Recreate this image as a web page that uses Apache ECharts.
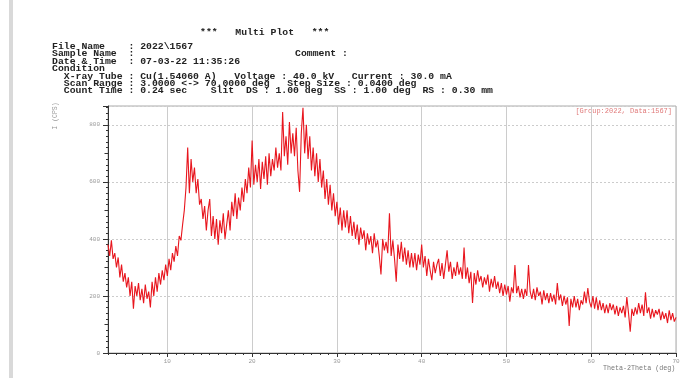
<!DOCTYPE html>
<html>
<head>
<meta charset="utf-8">
<script src="https://cdn.jsdelivr.net/npm/echarts@6/dist/echarts.min.js"></script>
<style>
  html, body { margin: 0; padding: 0; background: #fff; }
  #xrd { width: 700px; height: 378px; }
</style>
</head>
<body>
<div id="xrd"></div>
<script>
var scanStart = 3;
var scanStep = 0.2;
var yTicks = [0, 200, 400, 600, 800];
var xTicks = [10, 20, 30, 40, 50, 60, 70];

var counts = [
  380, 340, 395, 330, 350,   300, 335, 265, 310, 250,   280, 230, 265, 200, 250,   // 3-5
  155, 235, 200, 245, 185,   225, 175, 240, 190, 215,   160, 250, 200, 265, 215,   // 6-8
  280, 240, 290, 255, 310,   270, 330, 290, 350, 320,   375, 340, 410, 395, 450,   // 9-11
  500, 580, 720, 560, 680,   600, 650, 560, 610, 520,   540, 470, 515, 430, 500,   // 12-14
  540, 410, 480, 400, 470,   380, 465, 420, 490, 400,   450, 500, 430, 530, 480,   // 15-17
  560, 470, 545, 500, 580,   530, 610, 560, 650, 580,   745, 590, 660, 600, 680,   // 18-20
  575, 670, 610, 690, 590,   700, 620, 680, 640, 720,   650, 700, 640, 845, 690,   // 21-23
  760, 660, 810, 700, 770,   690, 790, 640, 565, 770,   860, 700, 800, 680, 760,   // 24-26
  640, 720, 620, 700, 600,   680, 580, 640, 540, 610,   520, 590, 500, 560, 480,   // 27-29
  530, 450, 510, 430, 500,   440, 500, 420, 480, 410,   460, 400, 450, 380, 440,   // 30-32
  400, 430, 360, 420, 380,   410, 350, 420, 370, 395,   340, 275, 400, 360, 390,   // 33-35
  350, 490, 340, 395, 330,   250, 380, 330, 390, 320,   370, 310, 360, 300, 350,   // 36-38
  300, 350, 290, 345, 310,   380, 300, 340, 270, 330,   290, 255, 320, 280, 310,   // 39-41
  330, 270, 315, 260, 310,   360, 285, 320, 260, 300,   270, 320, 275, 300, 260,   // 42-44
  370, 260, 300, 245, 285,   175, 280, 240, 290, 250,   270, 230, 265, 240, 275,   // 45-47
  215, 260, 230, 270, 225,   250, 210, 245, 200, 240,   205, 235, 180, 230, 210,   // 48-50
  308, 210, 235, 195, 225,   190, 225, 200, 308, 215,   190, 225, 185, 230, 200,   // 51-53
  215, 170, 220, 185, 210,   175, 210, 180, 205, 170,   245, 185, 205, 165, 200,   // 54-56
  170, 195,  95, 190, 160,   200, 160, 190, 150, 185,   170, 215, 175, 228, 180,   // 57-59
  160, 200, 155, 195, 150,   185, 150, 175, 140, 170,   140, 175, 150, 170, 135,   // 60-62
  165, 130, 160, 140, 165,   125, 196, 140,  75, 155,   130, 160, 135, 175, 140,   // 63-65
  170, 130, 213, 140, 160,   120, 155, 125, 150, 135,   155, 115, 145, 120, 140,   // 66-68
  105, 150, 115, 140, 110,   125                                                   // 69-70
];

var pts = counts.map(function (c, i) {
  return [+(scanStart + i * scanStep).toFixed(2), c];
});

var mono = '"Liberation Mono", "DejaVu Sans Mono", monospace';

var headerLines = [
  ['***   Multi Plot   ***', 200, 33],
  ['File Name    : 2022\\1567', 52, 47],
  ['Sample Name  :', 52, 54],
  ['Comment :', 295, 54],
  ['Date & Time  : 07-03-22 11:35:26', 52, 62],
  ['Condition', 52, 69],
  ['  X-ray Tube : Cu(1.54060 A)   Voltage : 40.0 kV   Current : 30.0 mA', 52, 77],
  ['  Scan Range : 3.0000 <-> 70.0000 deg   Step Size : 0.0400 deg', 52, 84],
  ['  Count Time : 0.24 sec    Slit  DS : 1.00 deg  SS : 1.00 deg  RS : 0.30 mm', 52, 91]
];

var graphics = [
  { type: 'rect', shape: { x: 9, y: 0, width: 4, height: 378 }, style: { fill: '#d9d9d9' }, silent: true }
];
headerLines.forEach(function (h) {
  graphics.push({
    type: 'text', x: h[1], y: h[2], silent: true,
    style: { text: h[0], font: 'bold 9.8px ' + mono, fill: '#222', textVerticalAlign: 'middle' }
  });
});
graphics.push(
  { type: 'text', x: 672, y: 111, silent: true,
    style: { text: '[Group:2022, Data:1567]', font: '7px ' + mono, fill: '#e07a7a', textAlign: 'right', textVerticalAlign: 'middle' } },
  { type: 'text', x: 603, y: 368, silent: true,
    style: { text: 'Theta-2Theta (deg)', font: '6.7px ' + mono, fill: '#777', textVerticalAlign: 'middle' } },
  { type: 'text', x: 55, y: 116, rotation: Math.PI / 2, silent: true,
    style: { text: 'I (CPS)', font: '6.5px ' + mono, fill: '#999', textAlign: 'center', textVerticalAlign: 'middle' } }
);

var chart = echarts.init(document.getElementById('xrd'), null, { renderer: 'canvas' });
chart.setOption({
  animation: false,
  backgroundColor: '#fff',
  grid: {
    left: 108, right: 24, top: 106, bottom: 25,
    show: true, borderColor: '#aaa', borderWidth: 1
  },
  xAxis: [{
    // main axis: labels + long ticks + grid at 10,20,...
    type: 'value', min: 3, max: 70, interval: 1,
    axisLine: { onZero: false, lineStyle: { color: '#333', width: 1 } },
    axisTick: { show: true, length: 4, customValues: xTicks, lineStyle: { color: '#333' } },
    axisLabel: {
      fontSize: 6, color: '#999', fontFamily: mono, margin: 5,
      customValues: xTicks
    },
    splitLine: { show: true, lineStyle: { color: '#ccc', width: 1 } }
  }, {
    // 1 deg small ticks
    type: 'value', min: 3, max: 70, interval: 1, position: 'bottom',
    axisLine: { show: false, onZero: false },
    axisTick: { show: true, length: 2, lineStyle: { color: '#333' } },
    axisLabel: { show: false },
    splitLine: { show: false }
  }],
  yAxis: [{
    type: 'value', min: 0, max: 866, interval: 200,
    axisLine: { show: true, lineStyle: { color: '#333', width: 1 } },
    axisTick: { show: true, length: 5, lineStyle: { color: '#333' } },
    minorTick: { show: true, splitNumber: 10, length: 2, lineStyle: { color: '#333' } },
    axisLabel: {
      fontSize: 6, color: '#999', fontFamily: mono, margin: 8,
      formatter: function (v) { return yTicks.indexOf(v) >= 0 ? String(v) : ''; }
    },
    splitLine: { show: true, lineStyle: { color: '#ccc', width: 1, type: [2, 2] } }
  }, {
    // medium ticks every 100
    type: 'value', min: 0, max: 866, interval: 100, position: 'left',
    axisLine: { show: false },
    axisTick: { show: true, length: 3.5, lineStyle: { color: '#333' } },
    axisLabel: { show: false },
    splitLine: { show: false }
  }],
  series: [{
    type: 'line',
    data: pts,
    showSymbol: false,
    lineStyle: { color: '#e8161e', width: 1.1 },
    silent: true
  }],
  graphic: graphics
});
</script>
</body>
</html>
